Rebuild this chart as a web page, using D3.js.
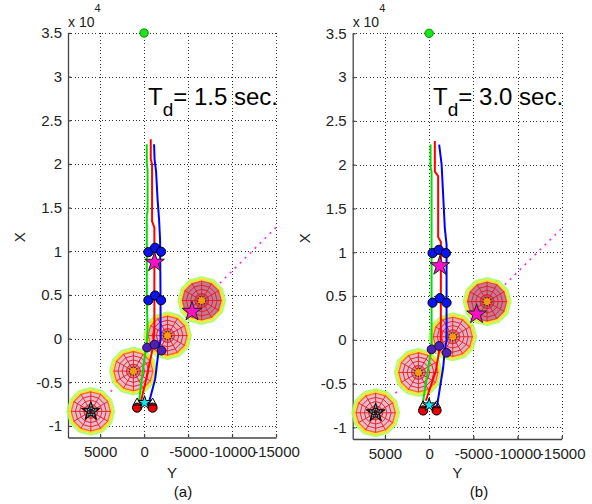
<!DOCTYPE html>
<html><head><meta charset="utf-8">
<script src="https://cdn.jsdelivr.net/npm/d3@7"></script>
<style>
html,body{margin:0;padding:0;background:#fff;}
svg{display:block;font-family:"Liberation Sans",Arial,Helvetica,sans-serif;}
</style>
</head><body>
<svg id="chart" width="592" height="504"></svg>
<script>
// ---------------- data (Y = horizontal, X = vertical) ----------------
const horizTicks = [5000, 0, -5000, -10000, -15000];
const horizTickLabels = ["5000", "0", "-5000", "-10000", "-15000"];
const vertTicks = [-10000, -5000, 0, 5000, 10000, 15000, 20000, 25000, 30000, 35000];
const vertTickLabels = ["-1", "-0.5", "0", "0.5", "1", "1.5", "2", "2.5", "3", "3.5"];
const horizDomain = [8650, -15000];
const vertDomain = [35000, -11330];
const panelCaptions = ["(a)", "(b)"];
const delayValues = ["1.5", "3.0"];
const axisNameVert = "X";
const axisNameHoriz = "Y";

const threatY = [-6555, -2670, 1215, 6055];
const threatX = [4360, 344, -3728, -8340];
const threatRadius = 2650;
const threatShade = [0.42, 0.1, 0.04, 0.04];
const threatCenterKind = ["dot", "dot", "dot", "star"];
const goalPoint = [0, 35000];
const threatLine = [[6055, -8340], [-15000, 12730]];
const delayLabelPos = [-450, 26800];

// panel (a)
const greenTrackA = [[-307,22250],[-307,19960],[-398,19380],[-398,14570],[-307,14110],[-307,4700],[-398,1030],[-307,-460],[80,-3210],[568,-7110]];
const redTrackA = [[-761,22830],[-761,20530],[-909,19960],[-909,13420],[-1170,12730],[-1170,1030],[-1022,-920],[-227,-4700],[341,-7110]];
const blueTrackA = [[-1136,22250],[-1193,20530],[-1363,19150],[-1534,15940],[-1704,13650],[-1818,11360],[-1874,4470],[-1874,-115],[-1624,-1610],[-1250,-4700],[-488,-7570]];
const formationA = [[-490,9900],[-1250,10400],[-1930,9950],[-490,4390],[-1250,4930],[-1930,4390]];
const formationLowA = [[-340,-1030],[-1190,-690],[-1990,-1380]];
const starsA = [[-1190,8720],[-5450,3100]];
const startRedA = [[795,-7910],[-965,-7910]];
const startTriA = [[795,-7350],[-965,-7350]];
const startCyanA = [[-57,-7340]];

// panel (b)
const greenTrackB = [[-159,22300],[-159,19700],[-272,19200],[-272,-900],[147,-3550],[680,-7000]];
const redTrackB = [[-646,22700],[-646,19200],[-1020,18700],[-1020,11700],[-1326,11200],[-1326,-140],[-759,-3530],[374,-6960]];
const blueTrackB = [[-1133,22300],[-1405,20100],[-1779,12700],[-1971,10900],[-1971,-100],[-1779,-1050],[-1586,-3190],[-838,-7900]];
const formationB = [[-385,9900],[-1100,10270],[-1892,9900],[-385,4240],[-1210,4750],[-1970,4240]];
const formationLowB = [[-272,-1090],[-1133,-710],[-1971,-1480]];
const starsB = [[-1212,8440],[-5370,2920]];
const startRedB = [[680,-8070],[-838,-8070]];
const startTriB = [[680,-7500],[-838,-7500]];
const startCyanB = [[0,-7460]];

// ---------------- drawing ----------------
const svg = d3.select("#chart");
svg.append("rect").attr("width", 592).attr("height", 504).attr("fill", "#fff");

const panels = [
  {left: 68, right: 276, top: 33, bottom: 437.5, caption: panelCaptions[0], capX: 183, delay: delayValues[0],
   green: greenTrackA, red: redTrackA, blue: blueTrackA, form: formationA, formLow: formationLowA,
   stars: starsA, sRed: startRedA, sTri: startTriA, sCyan: startCyanA},
  {left: 352.7, right: 561.7, top: 33.3, bottom: 439, caption: panelCaptions[1], capX: 479, delay: delayValues[1],
   green: greenTrackB, red: redTrackB, blue: blueTrackB, form: formationB, formLow: formationLowB,
   stars: starsB, sRed: startRedB, sTri: startTriB, sCyan: startCyanB}
];

function polyPts(cx, cy, r) {
  const pts = [];
  for (let k = 0; k < 12; k++) {
    const a = k * Math.PI / 6;
    pts.push([cx + r * Math.sin(a), cy - r * Math.cos(a)]);
  }
  return pts.map(p => p.join(",")).join(" ");
}

panels.forEach(p => {
  const g = svg.append("g");
  const x = d3.scaleLinear().domain(horizDomain).range([p.left, p.right]);
  const y = d3.scaleLinear().domain(vertDomain).range([p.top, p.bottom]);

  // grid
  const grid = g.append("g").attr("stroke", "#333").attr("stroke-width", 1)
    .attr("stroke-dasharray", "1,2.4").attr("shape-rendering", "crispEdges");
  grid.selectAll(".gv").data(horizTicks).join("line")
    .attr("x1", d => Math.round(x(d)) + 0.5).attr("x2", d => Math.round(x(d)) + 0.5)
    .attr("y1", y(vertDomain[0])).attr("y2", y(vertDomain[1]));
  grid.selectAll(".gh").data(vertTicks).join("line")
    .attr("y1", d => Math.round(y(d)) + 0.5).attr("y2", d => Math.round(y(d)) + 0.5)
    .attr("x1", x(horizDomain[0])).attr("x2", x(horizDomain[1]));

  // axes
  const ax = g.append("g").attr("transform", `translate(0,${p.bottom})`)
    .call(d3.axisBottom(x).tickValues(horizTicks).tickFormat((d, i) => horizTickLabels[i])
      .tickSizeInner(-3).tickSizeOuter(0).tickPadding(9));
  const ay = g.append("g").attr("transform", `translate(${p.left},0)`)
    .call(d3.axisLeft(y).tickValues(vertTicks).tickFormat((d, i) => vertTickLabels[i])
      .tickSizeInner(-3).tickSizeOuter(0).tickPadding(6));
  [ax, ay].forEach(a => {
    a.selectAll("path,line").attr("stroke", "#444").attr("stroke-width", 1.3);
    a.selectAll("text").attr("font-size", 15).attr("fill", "#222")
      .attr("font-family", "Liberation Sans, Arial, sans-serif");
  });

  // exponent
  const ex = g.append("text").attr("x", p.left).attr("y", 27).attr("font-size", 14).attr("fill", "#222");
  ex.append("tspan").text("x 10");
  ex.append("tspan").attr("font-size", 11).attr("dy", -15).text("4");

  // axis names
  g.append("text").attr("transform", `translate(${p.left - 43},${(p.top + p.bottom) / 2 + 2}) rotate(-90)`)
    .attr("text-anchor", "middle").attr("font-size", 15).attr("fill", "#222").text(axisNameVert);
  g.append("text").attr("x", (p.left + p.right) / 2).attr("y", 478)
    .attr("text-anchor", "middle").attr("font-size", 15).attr("fill", "#222").text(axisNameHoriz);
  g.append("text").attr("x", p.capX).attr("y", 497)
    .attr("text-anchor", "middle").attr("font-size", 15).attr("fill", "#111").text(p.caption);

  // dotted threat line
  g.append("line")
    .attr("x1", x(threatLine[0][0])).attr("y1", y(threatLine[0][1]))
    .attr("x2", x(threatLine[1][0])).attr("y2", y(threatLine[1][1]))
    .attr("stroke", "#ff22ee").attr("stroke-width", 1.6).attr("stroke-dasharray", "2,5");

  // threats
  const Rpx = Math.abs(x(threatRadius) - x(0));
  threatY.forEach((ty, i) => {
    const cx = x(ty), cy = y(threatX[i]);
    const t = g.append("g");
    const sh = threatShade[i];
    t.append("polygon").attr("points", polyPts(cx, cy, Rpx))
      .attr("fill", "#ffff70").attr("fill-opacity", 0.45)
      .attr("stroke", "#a8ff60").attr("stroke-width", 2.2).attr("stroke-opacity", 0.9);
    t.append("polygon").attr("points", polyPts(cx, cy, Rpx * 0.92))
      .attr("fill", "#ffd8a0").attr("fill-opacity", 0.4)
      .attr("stroke", "#ffe020").attr("stroke-width", 1.5);
    t.append("polygon").attr("points", polyPts(cx, cy, Rpx * 0.84))
      .attr("fill", "#ecc0d2").attr("fill-opacity", 1)
      .attr("stroke", "#ff7010").attr("stroke-width", 1.4);
    t.append("polygon").attr("points", polyPts(cx, cy, Rpx * 0.84))
      .attr("fill", "#8a1848").attr("fill-opacity", sh).attr("stroke", "none");
    t.append("polygon").attr("points", polyPts(cx, cy, Rpx * 0.32))
      .attr("fill", "#8a1848").attr("fill-opacity", 0.3).attr("stroke", "none");
    [0.66, 0.48, 0.3, 0.14].forEach(f => {
      t.append("polygon").attr("points", polyPts(cx, cy, Rpx * f))
        .attr("fill", "none").attr("stroke", "#e81818").attr("stroke-width", 0.9);
    });
    for (let k = 0; k < 12; k++) {
      const a = k * Math.PI / 6;
      t.append("line").attr("x1", cx).attr("y1", cy)
        .attr("x2", cx + Rpx * 0.84 * Math.sin(a)).attr("y2", cy - Rpx * 0.84 * Math.cos(a))
        .attr("stroke", "#e81818").attr("stroke-width", 0.9);
    }
    if (threatCenterKind[i] === "dot") {
      t.append("circle").attr("cx", cx).attr("cy", cy).attr("r", 4)
        .attr("fill", "#ff9a10").attr("stroke", "#5a2000").attr("stroke-width", 1.2)
        .attr("stroke-dasharray", "1.5,1.2");
    } else {
      t.append("path").attr("transform", `translate(${cx},${cy})`)
        .attr("d", d3.symbol(d3.symbolStar, 110)())
        .attr("fill", "#4a0a10").attr("stroke", "#200000").attr("stroke-width", 1);
      t.append("path").attr("transform", `translate(${cx},${cy})`)
        .attr("d", d3.symbol(d3.symbolStar, 40)())
        .attr("fill", "none").attr("stroke", "#22e0e0").attr("stroke-width", 1.2)
        .attr("stroke-dasharray", "1,1.5");
    }
  });

  // trajectories
  const line = d3.line().x(d => x(d[0])).y(d => y(d[1]));
  [[p.green, "#00e000"], [p.red, "#ff0000"], [p.blue, "#0000ff"]].forEach(([data, col]) => {
    g.append("path").attr("d", line(data)).attr("fill", "none")
      .attr("stroke", col).attr("stroke-width", 2).attr("stroke-linejoin", "round");
  });

  // formation markers
  g.selectAll(null).data(p.form).join("circle")
    .attr("cx", d => x(d[0])).attr("cy", d => y(d[1])).attr("r", 4.6)
    .attr("fill", "#0a14ee").attr("stroke", "#000").attr("stroke-width", 1);
  g.selectAll(null).data(p.formLow).join("circle")
    .attr("cx", d => x(d[0])).attr("cy", d => y(d[1])).attr("r", 4.4)
    .attr("fill", "#4a22b8").attr("stroke", "#200040").attr("stroke-width", 1);

  // start markers
  g.selectAll(null).data(p.sRed).join("circle")
    .attr("cx", d => x(d[0])).attr("cy", d => y(d[1])).attr("r", 4.6)
    .attr("fill", "#ee0000").attr("stroke", "#000").attr("stroke-width", 1);
  g.selectAll(null).data(p.sTri).join("path")
    .attr("transform", d => `translate(${x(d[0])},${y(d[1])})`)
    .attr("d", d3.symbol(d3.symbolTriangle, 28)())
    .attr("fill", "none").attr("stroke", "#000").attr("stroke-width", 1);
  g.selectAll(null).data(p.sCyan).join("path")
    .attr("transform", d => `translate(${x(d[0])},${y(d[1])})`)
    .attr("d", d3.symbol(d3.symbolStar, 55)())
    .attr("fill", "#10e8f0").attr("stroke", "#000").attr("stroke-width", 1);

  // magenta stars
  g.selectAll(null).data(p.stars).join("path")
    .attr("transform", d => `translate(${x(d[0])},${y(d[1])})`)
    .attr("d", d3.symbol(d3.symbolStar, 120)())
    .attr("fill", "#ff10c8").attr("stroke", "#222").attr("stroke-width", 1);

  // goal point
  g.append("circle").attr("cx", x(goalPoint[0])).attr("cy", y(goalPoint[1])).attr("r", 4.2)
    .attr("fill", "#18e818").attr("stroke", "#0a8a0a").attr("stroke-width", 1);

  // delay label
  const tl = g.append("text").attr("x", x(delayLabelPos[0])).attr("y", y(delayLabelPos[1]))
    .attr("font-size", 24).attr("fill", "#000");
  tl.append("tspan").text("T");
  tl.append("tspan").attr("font-size", 19).attr("dy", 11).text("d");
  tl.append("tspan").attr("dy", -11).text("= " + p.delay + " sec.");
});
</script>
</body></html>
